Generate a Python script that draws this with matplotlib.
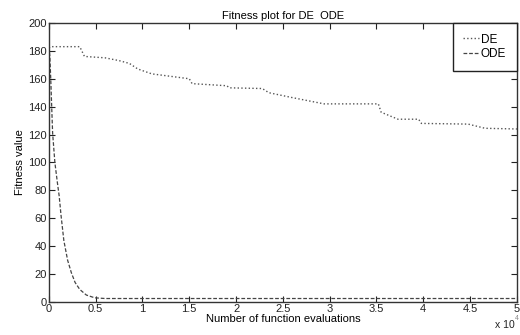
import matplotlib
matplotlib.use("Agg")
from matplotlib import pyplot as plt

plt.rcParams['font.family'] = ['Liberation Sans', 'DejaVu Sans']

# function evaluations (x 10^4) and best fitness for each run
de_evals = [0, 0.02, 0.33, 0.38, 0.60, 0.75, 0.86, 0.95, 1.10, 1.50, 1.53,
            1.90, 1.93, 2.28, 2.35, 2.60, 2.94, 3.52, 3.55, 3.73, 3.95,
            3.98, 4.48, 4.66, 5.0]
de_fitness = [182, 183, 183, 176, 175, 173, 171, 167, 163.5, 160, 156.5,
              155, 153.5, 153, 150, 146.5, 142, 142, 136, 131, 131,
              128, 127.5, 124.5, 124]

ode_evals = [0, 0.01, 0.02, 0.03, 0.04, 0.064, 0.09, 0.11, 0.13, 0.16,
             0.20, 0.24, 0.28, 0.33, 0.40, 0.49, 0.60, 5.0]
ode_fitness = [183, 176, 160, 140, 121, 100, 86, 76, 62, 44,
               30, 21, 14, 9, 5, 3, 2.5, 2.5]

fig = plt.figure(figsize=(5.2, 3.35), dpi=100)
ax = fig.add_axes([0.094, 0.0985, 0.9, 0.833])

ax.plot(de_evals, de_fitness, linestyle=':', color='#555555', lw=1.0,
        label='DE')
ax.plot(ode_evals, ode_fitness, linestyle='--', color='#444444', lw=0.9,
        dashes=(3, 1.5), label='ODE')

ax.set_xlim(0, 5)
ax.set_ylim(0, 200)
ax.set_xticks([0, 0.5, 1, 1.5, 2, 2.5, 3, 3.5, 4, 4.5, 5])
ax.set_xticklabels(['0', '0.5', '1', '1.5', '2', '2.5', '3', '3.5', '4', '4.5', '5'])
ax.set_yticks(range(0, 201, 20))
ax.tick_params(direction='in', top=True, right=True, length=4, width=0.8,
               labelsize=8, pad=1.5, colors='#222222')
for s in ax.spines.values():
    s.set_linewidth(1.0)
    s.set_color('#333333')

ax.set_title('Fitness plot for DE  ODE', fontsize=8, pad=3)
ax.set_xlabel('Number of function evaluations', fontsize=8, labelpad=0)
ax.set_ylabel('Fitness value', fontsize=8, labelpad=2)
fig.text(0.952, 0.022, 'x 10', fontsize=7.5, color='#222222')
fig.text(0.99, 0.045, '4', fontsize=5, color='#888888')

leg = ax.legend(loc='upper right', fontsize=8.5, handlelength=1.3,
                handletextpad=0.2, borderaxespad=0, fancybox=False,
                framealpha=1, edgecolor='#222222', borderpad=0.9,
                labelspacing=0.2)
leg.get_frame().set_linewidth(1.0)

fig.savefig('out.png', dpi=100)
